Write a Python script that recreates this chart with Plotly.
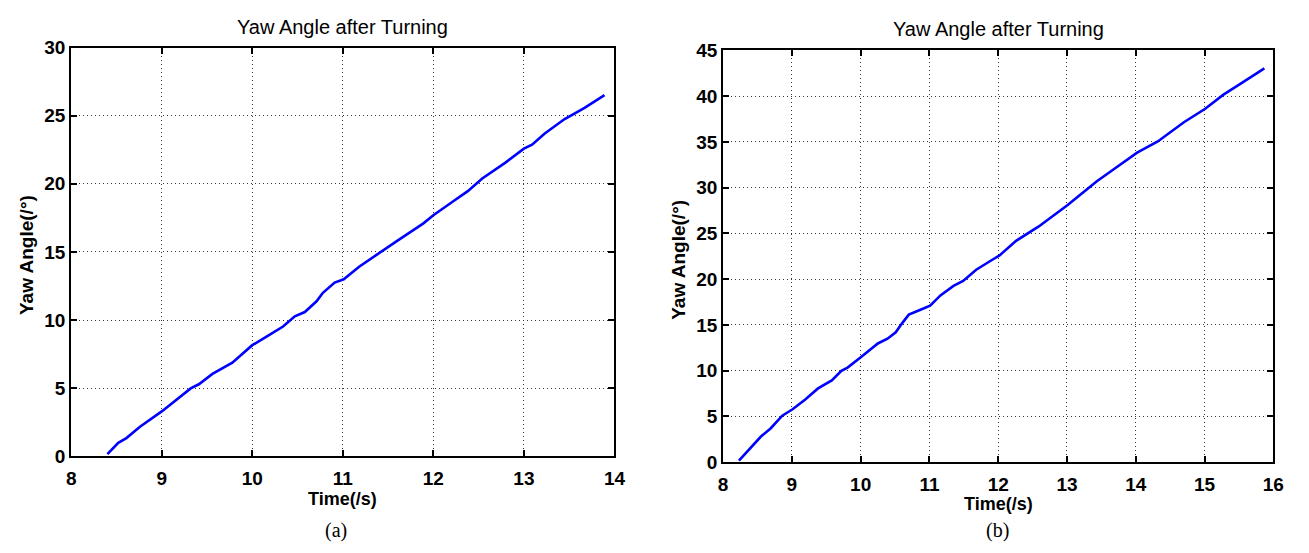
import plotly.graph_objects as go

# Panel (a)
time_a = [8.40, 8.52, 8.61, 8.76, 9.00, 9.16, 9.32, 9.41, 9.56, 9.78, 10.00, 10.18, 10.34, 10.47,
          10.58, 10.71, 10.78, 10.91, 11.01, 11.18, 11.41, 11.60, 11.89, 12.00, 12.20, 12.38, 12.54,
          12.80, 13.00, 13.09, 13.23, 13.45, 13.67, 13.89]
yaw_a = [0.16, 0.99, 1.34, 2.17, 3.30, 4.16, 4.99, 5.29, 6.05, 6.87, 8.16, 8.87, 9.53, 10.28,
         10.59, 11.38, 12.00, 12.75, 12.99, 13.92, 14.98, 15.81, 17.10, 17.69, 18.63, 19.46, 20.39,
         21.57, 22.58, 22.87, 23.69, 24.75, 25.57, 26.51]

# Panel (b)
time_b = [8.23, 8.38, 8.55, 8.69, 8.86, 9.01, 9.19, 9.38, 9.58, 9.72, 9.81, 10.02, 10.25, 10.39,
          10.51, 10.61, 10.70, 10.87, 11.01, 11.16, 11.35, 11.49, 11.68, 11.92, 12.02, 12.26, 12.59,
          13.01, 13.26, 13.43, 13.69, 14.02, 14.32, 14.70, 15.01, 15.27, 15.56, 15.87]
yaw_b = [0.18, 1.40, 2.80, 3.68, 5.08, 5.78, 6.83, 8.06, 8.94, 9.99, 10.34, 11.57, 12.97, 13.49,
         14.20, 15.25, 16.12, 16.65, 17.11, 18.22, 19.27, 19.80, 21.03, 22.15, 22.60, 24.19, 25.76,
         28.10, 29.62, 30.67, 32.07, 33.83, 35.05, 37.15, 38.62, 40.14, 41.54, 43.04]

xticks_a = [8, 9, 10, 11, 12, 13, 14]
yticks_a = [0, 5, 10, 15, 20, 25, 30]
xticks_b = [8, 9, 10, 11, 12, 13, 14, 15, 16]
yticks_b = [0, 5, 10, 15, 20, 25, 30, 35, 40, 45]

title_text = "Yaw Angle after Turning"
xlabel = "Time(/s)"
ylabel = "Yaw Angle(/°)"

W, H = 1309, 553
FONT = "Liberation Sans, Arial, sans-serif"

fig = go.Figure()
fig.add_trace(go.Scatter(x=time_a, y=yaw_a, mode="lines", line=dict(color="#0000FF", width=2.6),
                         xaxis="x", yaxis="y", showlegend=False))
fig.add_trace(go.Scatter(x=time_b, y=yaw_b, mode="lines", line=dict(color="#0000FF", width=2.6),
                         xaxis="x2", yaxis="y2", showlegend=False))

def px_x(p):
    return p / W

def px_y(p):
    return 1 - p / H

def bold(vals):
    return ["<b>%d</b>" % v for v in vals]

axis_common = dict(showline=True, linecolor="black", linewidth=2, mirror="ticks",
                   ticks="inside", ticklen=6, tickwidth=1.5, tickcolor="black",
                   showgrid=True, gridcolor="#333333", griddash="1px,3px", gridwidth=1.2,
                   zeroline=False,
                   tickfont=dict(family=FONT, size=19, color="black", weight="bold"))

fig.update_layout(
    width=W, height=H,
    margin=dict(l=0, r=0, t=0, b=0),
    paper_bgcolor="white", plot_bgcolor="white",
    xaxis=dict(domain=[px_x(67), px_x(617)], range=[8, 14], tickvals=xticks_a,
               ticktext=bold(xticks_a), anchor="y", ticklabelstandoff=4, **axis_common),
    yaxis=dict(domain=[px_y(464), px_y(39)], range=[0, 30], tickvals=yticks_a,
               ticktext=bold(yticks_a), anchor="x", **axis_common),
    xaxis2=dict(domain=[px_x(727), px_x(1284)], range=[8, 16], tickvals=xticks_b,
                ticktext=bold(xticks_b), anchor="y2", ticklabelstandoff=4, **axis_common),
    yaxis2=dict(domain=[px_y(470), px_y(42)], range=[0, 45], tickvals=yticks_b,
                ticktext=bold(yticks_b), anchor="x2", **axis_common),
)

ann = []
def text(x, y, s, size=16, family=FONT, angle=0, weight="normal"):
    ann.append(dict(x=px_x(x), y=px_y(y), xref="paper", yref="paper", text=s, showarrow=False,
                    xanchor="center", yanchor="middle", textangle=angle,
                    font=dict(family=family, size=size, color="black", weight=weight)))

text(342, 18, title_text, size=20)
text(1006, 20, title_text, size=20)
text(342, 508, xlabel, size=18, weight="bold")
text(1006, 513, xlabel, size=18, weight="bold")
text(22, 255, ylabel, size=19, angle=-90, weight="bold")
text(681, 260, ylabel, size=19, angle=-90, weight="bold")
text(335, 541, "(a)", size=20, family="Liberation Serif, Times New Roman, serif")
text(1005, 541, "(b)", size=20, family="Liberation Serif, Times New Roman, serif")
fig.update_layout(annotations=ann)

fig.write_html("out.html")
